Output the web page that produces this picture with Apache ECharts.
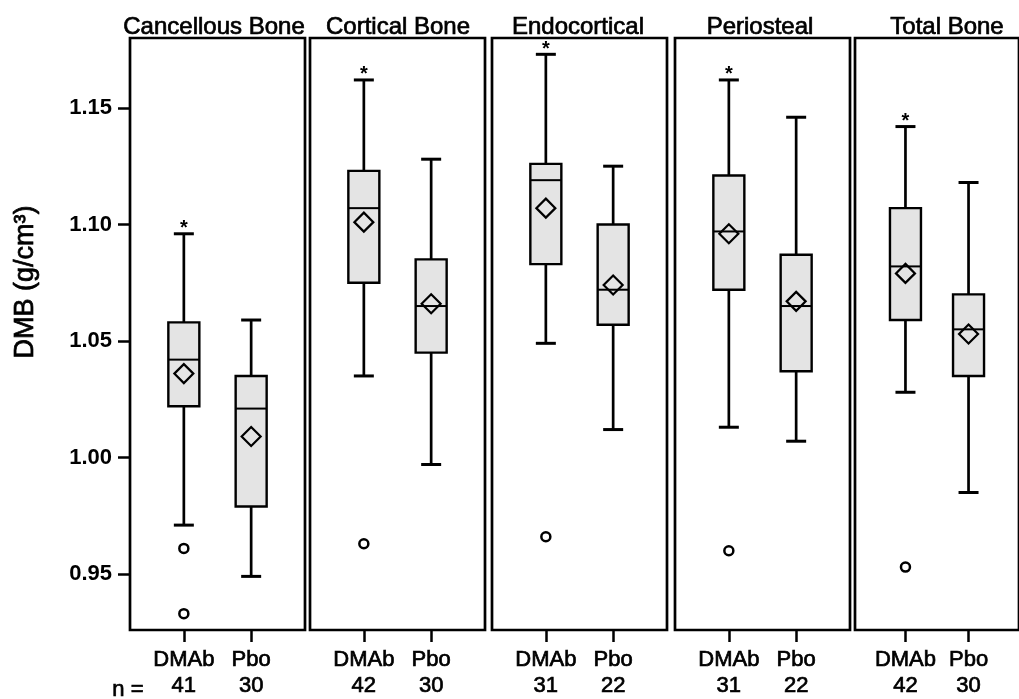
<!DOCTYPE html>
<html>
<head>
<meta charset="utf-8">
<script src="https://cdn.jsdelivr.net/npm/echarts@6/dist/echarts.min.js"></script>
<style>html,body{margin:0;padding:0;background:#fff}#c{width:1019px;height:699px}</style>
</head>
<body>
<div id="c"></div>
<script>
var panels = ['Cancellous Bone', 'Cortical Bone', 'Endocortical', 'Periosteal', 'Total Bone'];
var categories = ['DMAb', 'Pbo'];
var nCounts = [[41, 30], [42, 30], [31, 22], [31, 22], [42, 30]];
var yTicks = [0.95, 1.00, 1.05, 1.10, 1.15];
// [low whisker, Q1, median, Q3, high whisker]
var dmabBox = [
  [0.971, 1.022, 1.042, 1.058, 1.096],
  [1.035, 1.075, 1.107, 1.123, 1.162],
  [1.049, 1.083, 1.119, 1.126, 1.173],
  [1.013, 1.072, 1.097, 1.121, 1.162],
  [1.028, 1.059, 1.082, 1.107, 1.142]
];
var pboBox = [
  [0.949, 0.979, 1.021, 1.035, 1.059],
  [0.997, 1.045, 1.065, 1.085, 1.128],
  [1.012, 1.057, 1.072, 1.100, 1.125],
  [1.007, 1.037, 1.065, 1.087, 1.146],
  [0.985, 1.035, 1.055, 1.070, 1.118]
];
var dmabMean = [1.036, 1.101, 1.107, 1.096, 1.079];
var pboMean = [1.009, 1.066, 1.074, 1.067, 1.053];
var dmabOutliers = [[0.961, 0.933], [0.963], [0.966], [0.960], [0.953]];
var dmabSignificant = [true, true, true, true, true];

var FONT = '"Liberation Sans", Arial, sans-serif';
var gridLefts = [130, 310, 492, 675, 855];
var titleCenters = [209, 393, 573, 755, 942];
var grids = [], xAxes = [], yAxes = [], series = [], titles = [];

function renderBox(params, api) {
  var x = api.value(0);
  var lo = api.coord([x, api.value(1)]);
  var q1 = api.coord([x, api.value(2)]);
  var md = api.coord([x, api.value(3)]);
  var q3 = api.coord([x, api.value(4)]);
  var hi = api.coord([x, api.value(5)]);
  var star = api.value(6);
  var cx = lo[0], bw = 15.5, cw = 10;
  var lineStyle = {stroke: '#000', lineWidth: 2.7};
  var children = [
    {type: 'line', shape: {x1: cx, y1: q3[1], x2: cx, y2: hi[1]}, style: lineStyle},
    {type: 'line', shape: {x1: cx, y1: lo[1], x2: cx, y2: q1[1]}, style: lineStyle},
    {type: 'line', shape: {x1: cx - cw, y1: hi[1], x2: cx + cw, y2: hi[1]}, style: {stroke: '#000', lineWidth: 3}},
    {type: 'line', shape: {x1: cx - cw, y1: lo[1], x2: cx + cw, y2: lo[1]}, style: {stroke: '#000', lineWidth: 3}},
    {type: 'rect', shape: {x: cx - bw, y: q3[1], width: bw * 2, height: q1[1] - q3[1]},
      style: {fill: '#e4e4e4', stroke: '#000', lineWidth: 2.4}},
    {type: 'line', shape: {x1: cx - bw, y1: md[1], x2: cx + bw, y2: md[1]}, style: {stroke: '#000', lineWidth: 2}}
  ];
  if (star) {
    children.push({type: 'text', style: {x: cx, y: hi[1] - 5, text: '*', fill: '#000',
      font: 'bold 20px ' + FONT, textAlign: 'center', textVerticalAlign: 'middle'}});
  }
  return {type: 'group', children: children};
}

panels.forEach(function (name, i) {
  grids.push({left: gridLefts[i], top: 38, width: 175, bottom: 65, show: true,
    borderColor: '#000', borderWidth: 2.7, backgroundColor: 'transparent'});
  xAxes.push({
    type: 'value', gridIndex: i, min: 0.2, max: 2.8,
    axisLine: {show: false},
    splitLine: {show: false},
    axisTick: {show: true, customValues: [1, 2], length: 12, lineStyle: {color: '#000', width: 2.5}},
    axisLabel: {
      customValues: [1, 2], margin: 17, color: '#000',
      fontFamily: FONT, fontSize: 22, lineHeight: 26,
      textBorderColor: '#000', textBorderWidth: 0.7,
      formatter: (function (idx) {
        return function (v) { var k = Math.round(v) - 1; return categories[k] + '\n' + nCounts[idx][k]; };
      })(i)
    }
  });
  yAxes.push({
    type: 'value', gridIndex: i, min: 0.926, max: 1.18,
    axisLine: {show: false},
    splitLine: {show: false},
    axisTick: {show: i === 0, customValues: yTicks, length: 12, lineStyle: {color: '#000', width: 2.5}},
    axisLabel: {show: i === 0, customValues: yTicks, margin: 18, color: '#000',
      fontFamily: FONT, fontSize: 22, fontWeight: 'bold',
      formatter: function (v) { return v.toFixed(2); }}
  });
  titles.push({text: name, left: titleCenters[i], top: 10, textAlign: 'center',
    textStyle: {fontFamily: FONT, fontSize: 24, fontWeight: 'normal', color: '#000',
      textBorderColor: '#000', textBorderWidth: 0.7}});

  series.push({
    type: 'custom', xAxisIndex: i, yAxisIndex: i, renderItem: renderBox, clip: false,
    encode: {x: 0, y: [1, 2, 3, 4, 5]},
    data: [
      [1].concat(dmabBox[i]).concat([dmabSignificant[i] ? 1 : 0]),
      [2].concat(pboBox[i]).concat([0])
    ]
  });
  series.push({
    type: 'scatter', xAxisIndex: i, yAxisIndex: i, symbol: 'diamond', symbolSize: 19, z: 5,
    itemStyle: {color: 'rgba(0,0,0,0)', borderColor: '#000', borderWidth: 2.2, opacity: 1},
    data: [[1, dmabMean[i]], [2, pboMean[i]]]
  });
  series.push({
    type: 'scatter', xAxisIndex: i, yAxisIndex: i, symbol: 'circle', symbolSize: 9, z: 5,
    itemStyle: {color: '#fff', borderColor: '#000', borderWidth: 2.5, opacity: 1},
    data: dmabOutliers[i].map(function (v) { return [1, v]; })
  });
});

var chart = echarts.init(document.getElementById('c'), null, {renderer: 'canvas'});
chart.setOption({
  animation: false,
  backgroundColor: '#fff',
  title: titles,
  grid: grids,
  xAxis: xAxes,
  yAxis: yAxes,
  series: series,
  graphic: [
    {type: 'text', left: 112, top: 679, style: {text: 'n =', font: '22px ' + FONT, fill: '#000',
      stroke: '#000', lineWidth: 0.7}},
    {type: 'text', x: 26, y: 282, rotation: Math.PI / 2,
      style: {text: 'DMB (g/cm³)', font: '27px ' + FONT, fill: '#000', stroke: '#000', lineWidth: 0.7,
        textAlign: 'center', textVerticalAlign: 'middle'}}
  ]
});
</script>
</body>
</html>
